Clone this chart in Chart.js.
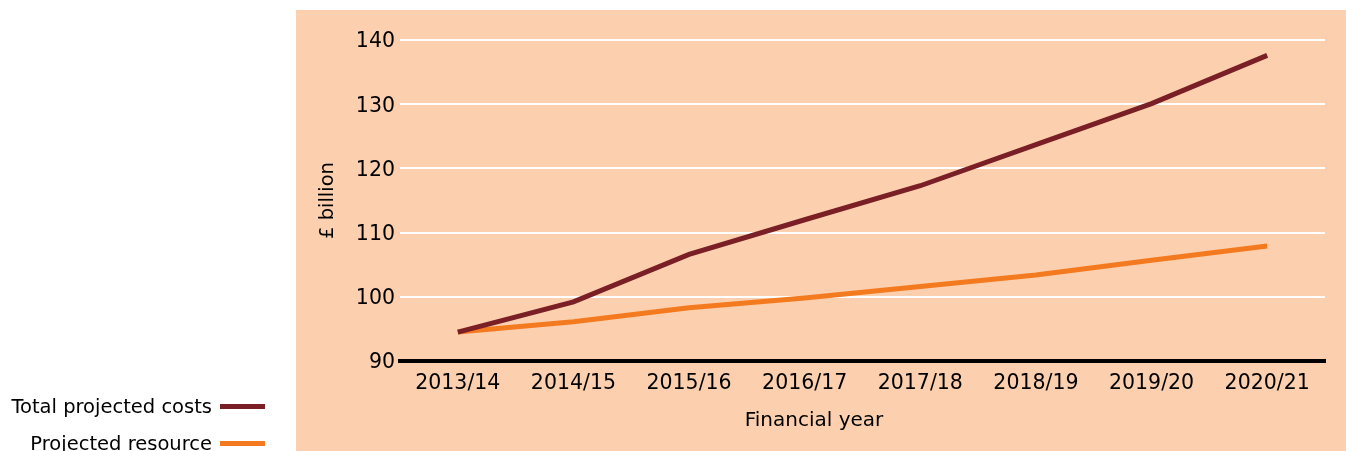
<!DOCTYPE html>
<html>
<head>
<meta charset="utf-8">
<script src="https://cdn.jsdelivr.net/npm/chart.js@4"></script>
<style>
  html, body { margin: 0; padding: 0; background: #ffffff; }
  #wrap { position: relative; width: 1346px; height: 451px; }
  canvas { position: absolute; left: 0; top: 0; }
  .leg { position: absolute; font-family: "DejaVu Sans", sans-serif; font-size: 19.5px; color: #000; display: flex; align-items: center; white-space: nowrap; }
  .leg span.sw { display: inline-block; width: 45px; height: 5px; margin-left: 8px; }
  #xtitle { position: absolute; left: 614px; width: 400px; text-align: center; top: 406px; font-family: "DejaVu Sans", sans-serif; font-size: 20px; line-height: 26px; color: #000; }
</style>
</head>
<body>
<div id="wrap">
  <canvas id="c" width="1346" height="451"></canvas>
  <div id="legend"></div>
  <div id="xtitle"></div>
</div>
<script>
const categories = ["2013/14", "2014/15", "2015/16", "2016/17", "2017/18", "2018/19", "2019/20", "2020/21"];
const totalProjectedCosts = [94.5, 99.2, 106.6, 112.0, 117.3, 123.7, 130.1, 137.6];
const projectedResource = [94.5, 96.1, 98.3, 99.8, 101.6, 103.4, 105.7, 107.9];
const seriesLabels = ["Total projected costs", "Projected resource"];
const seriesColors = ["#7b1f26", "#f47a20"];
const yTicks = [90, 100, 110, 120, 130, 140];
const xAxisTitle = "Financial year";
const yAxisTitle = "£ billion";

const FONT = "'DejaVu Sans', sans-serif";
const PEACH = "#fcd0ae";

const peachBg = {
  id: 'peachBg',
  beforeDraw(chart) {
    const ctx = chart.ctx;
    ctx.save();
    ctx.fillStyle = PEACH;
    ctx.fillRect(296, 10, 1050, 441);
    ctx.restore();
  }
};

const chart = new Chart(document.getElementById('c'), {
  type: 'line',
  data: {
    labels: categories,
    datasets: [
      { label: seriesLabels[0], data: totalProjectedCosts, borderColor: seriesColors[0], backgroundColor: seriesColors[0], borderWidth: 5, pointRadius: 0, tension: 0, borderCapStyle: 'butt', order: 1 },
      { label: seriesLabels[1], data: projectedResource, borderColor: seriesColors[1], backgroundColor: seriesColors[1], borderWidth: 5, pointRadius: 0, tension: 0, borderCapStyle: 'butt', order: 2 }
    ]
  },
  options: {
    responsive: false,
    animation: false,
    events: [],
    layout: { padding: { left: 296, right: 21, top: 40, bottom: 0 } },
    plugins: { legend: { display: false }, tooltip: { enabled: false } },
    scales: {
      x: {
        offset: true,
        grid: { display: false, drawTicks: false },
        border: { display: true, color: '#000000', width: 4 },
        ticks: { color: '#000', font: { family: FONT, size: 20.5 }, padding: 10, maxRotation: 0, autoSkip: false },
        title: { display: false },
        afterFit(scale) { scale.height = 90; }
      },
      y: {
        min: 90, max: 140,
        afterBuildTicks(scale) { scale.ticks = yTicks.map(v => ({ value: v })); },
        grid: { color: '#ffffff', lineWidth: 2, drawTicks: false },
        border: { display: false },
        ticks: { color: '#000', font: { family: FONT, size: 20.5 }, padding: 5, labelOffset: 2 },
        title: { display: true, text: yAxisTitle, color: '#000', font: { family: FONT, size: 19.5 }, padding: { top: 20, bottom: 0 } },
        afterFit(scale) { scale.width = 104; }
      }
    }
  },
  plugins: [peachBg]
});

document.getElementById('xtitle').textContent = xAxisTitle;

// HTML legend built from datasets
const legend = document.getElementById('legend');
const legTops = [395, 432];
chart.data.datasets.forEach((ds, i) => {
  const d = document.createElement('div');
  d.className = 'leg';
  d.style.right = (1346 - 265) + 'px';
  d.style.top = legTops[i] + 'px';
  d.innerHTML = '<span class="txt"></span><span class="sw"></span>';
  d.querySelector('.txt').textContent = ds.label;
  d.querySelector('.sw').style.background = ds.borderColor;
  legend.appendChild(d);
});
</script>
</body>
</html>
